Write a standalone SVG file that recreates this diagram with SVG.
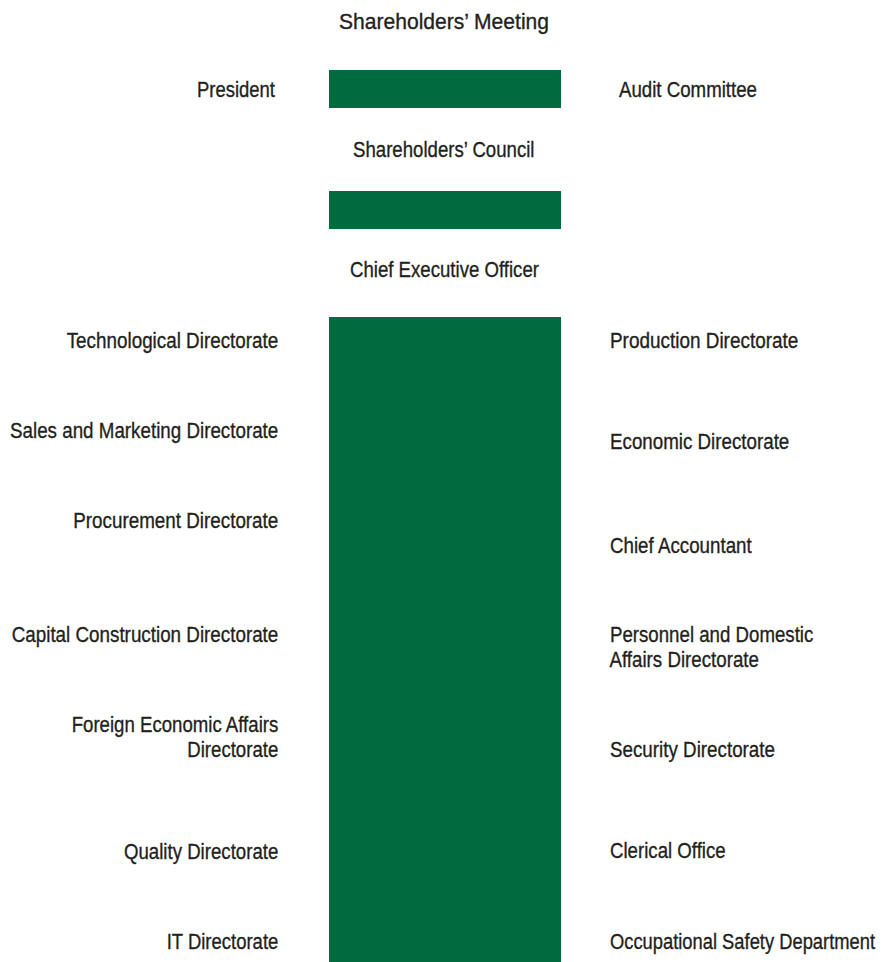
<svg xmlns="http://www.w3.org/2000/svg" width="885" height="962" viewBox="0 0 885 962">
  <style>
    .bar { fill: #006b3f; }
    .lbl { font-family: "Liberation Sans", Arial, sans-serif; font-size: 22.5px; fill: #231f20; stroke: #231f20; stroke-width: 0.35px; }
  </style>
  <rect width="885" height="962" fill="#ffffff"/>

  <!-- green spine -->
  <g id="spine">
    <rect class="bar" x="329" y="70" width="232" height="38"/>
    <rect class="bar" x="329" y="191" width="232" height="38"/>
    <rect class="bar" x="329" y="317" width="232" height="645"/>
  </g>

  <!-- labels set in a condensed width: x and lengths are in the scaled space (÷0.82) -->
  <g id="labels" transform="scale(0.82 1)">
    <!-- top governance -->
    <g id="shareholders-meeting"><text class="lbl" x="413.41" y="29.5" textLength="256.10" lengthAdjust="spacingAndGlyphs">Shareholders’ Meeting</text></g>
    <g id="president"><text class="lbl" x="240.24" y="97.3" textLength="95.12" lengthAdjust="spacingAndGlyphs">President</text></g>
    <g id="audit-committee"><text class="lbl" x="754.88" y="97.3" textLength="168.29" lengthAdjust="spacingAndGlyphs">Audit Committee</text></g>
    <g id="shareholders-council"><text class="lbl" x="430.49" y="156.7" textLength="221.34" lengthAdjust="spacingAndGlyphs">Shareholders’ Council</text></g>
    <g id="ceo"><text class="lbl" x="426.83" y="276.7" textLength="230.49" lengthAdjust="spacingAndGlyphs">Chief Executive Officer</text></g>

    <!-- left column -->
    <g id="technological"><text class="lbl" x="81.34" y="347.7" textLength="258.05" lengthAdjust="spacingAndGlyphs">Technological Directorate</text></g>
    <g id="sales-marketing"><text class="lbl" x="12.20" y="438.3" textLength="327.20" lengthAdjust="spacingAndGlyphs">Sales and Marketing Directorate</text></g>
    <g id="procurement"><text class="lbl" x="89.39" y="528.3" textLength="250.00" lengthAdjust="spacingAndGlyphs">Procurement Directorate</text></g>
    <g id="capital-construction"><text class="lbl" x="14.27" y="642.3" textLength="325.12" lengthAdjust="spacingAndGlyphs">Capital Construction Directorate</text></g>
    <g id="foreign-economic">
      <text class="lbl" x="87.44" y="732.3" textLength="251.95" lengthAdjust="spacingAndGlyphs">Foreign Economic Affairs</text>
      <text class="lbl" x="228.41" y="756.7" textLength="110.98" lengthAdjust="spacingAndGlyphs">Directorate</text>
    </g>
    <g id="quality"><text class="lbl" x="151.22" y="859.3" textLength="188.17" lengthAdjust="spacingAndGlyphs">Quality Directorate</text></g>
    <g id="it"><text class="lbl" x="203.29" y="949.3" textLength="136.10" lengthAdjust="spacingAndGlyphs">IT Directorate</text></g>

    <!-- right column -->
    <g id="production"><text class="lbl" x="743.90" y="347.7" textLength="229.63" lengthAdjust="spacingAndGlyphs">Production Directorate</text></g>
    <g id="economic"><text class="lbl" x="743.90" y="449.3" textLength="218.66" lengthAdjust="spacingAndGlyphs">Economic Directorate</text></g>
    <g id="chief-accountant"><text class="lbl" x="743.90" y="552.7" textLength="172.80" lengthAdjust="spacingAndGlyphs">Chief Accountant</text></g>
    <g id="personnel">
      <text class="lbl" x="743.90" y="642.3" textLength="247.93" lengthAdjust="spacingAndGlyphs">Personnel and Domestic</text>
      <text class="lbl" x="743.29" y="666.7" textLength="182.32" lengthAdjust="spacingAndGlyphs">Affairs Directorate</text>
    </g>
    <g id="security"><text class="lbl" x="743.90" y="756.7" textLength="201.22" lengthAdjust="spacingAndGlyphs">Security Directorate</text></g>
    <g id="clerical"><text class="lbl" x="743.90" y="858.3" textLength="141.10" lengthAdjust="spacingAndGlyphs">Clerical Office</text></g>
    <g id="occupational-safety"><text class="lbl" x="743.90" y="949" textLength="323.17" lengthAdjust="spacingAndGlyphs">Occupational Safety Department</text></g>
  </g>
</svg>
